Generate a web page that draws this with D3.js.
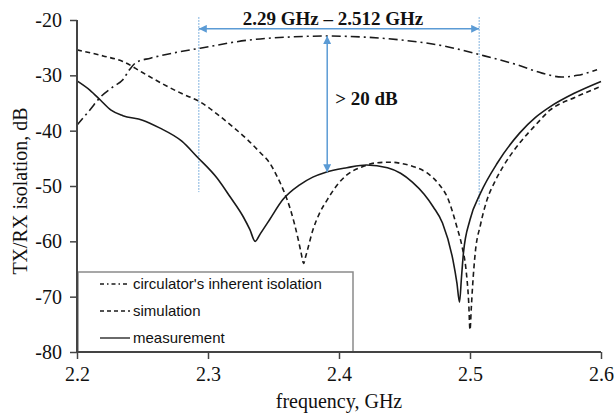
<!DOCTYPE html>
<html lang="en">
<head>
    <meta charset="UTF-8">
    <title>TX/RX isolation</title>
    <style>
        body { margin: 0; padding: 0; background: #fff; }
        svg { display: block; }
        .tick text { font-family: "Liberation Serif", "Times New Roman", serif; font-size: 20px; fill: #111; }
        .axis-title { font-family: "Liberation Serif", "Times New Roman", serif; font-size: 20px; fill: #111; }
        .note { font-family: "Liberation Serif", "Times New Roman", serif; font-size: 19px; font-weight: bold; fill: #111; }
        .legend text { font-family: "Liberation Sans", Arial, sans-serif; font-size: 15px; fill: #111; }
    </style>
</head>
<body>
<div id="chart"></div>
<script src="https://d3js.org/d3.v7.min.js"></script>
<script>
    // values
    const measFreq = [2.200, 2.210, 2.218, 2.226, 2.235, 2.250, 2.263, 2.280, 2.292, 2.307, 2.317, 2.327, 2.332,
        2.336, 2.340, 2.347, 2.357, 2.370, 2.380, 2.390, 2.406, 2.421, 2.437, 2.447, 2.456, 2.465, 2.472, 2.479,
        2.487, 2.490, 2.492, 2.4935, 2.495, 2.500, 2.508, 2.521, 2.538, 2.550, 2.561, 2.580, 2.600];
    const measurement = [-31.0, -32.7, -34.5, -36.3, -37.3, -38.1, -39.5, -41.9, -44.8, -48.6, -52.0, -55.6, -57.9,
        -60.0, -58.6, -56.1, -52.5, -49.8, -48.4, -47.5, -46.7, -46.2, -46.7, -47.7, -49.3, -51.5, -53.8, -56.7,
        -63.4, -67.5, -71.0, -66.5, -62.1, -56.1, -51.3, -45.8, -40.4, -37.6, -35.7, -33.2, -31.1];

    const simFreq = [2.200, 2.220, 2.235, 2.250, 2.265, 2.280, 2.294, 2.307, 2.319, 2.330, 2.340, 2.347, 2.353,
        2.358, 2.363, 2.369, 2.371, 2.373, 2.3745, 2.376, 2.380, 2.385, 2.391, 2.398, 2.406, 2.417, 2.429, 2.440,
        2.447, 2.457, 2.467, 2.476, 2.483, 2.490, 2.494, 2.497, 2.499, 2.500, 2.501, 2.502, 2.504, 2.508, 2.513,
        2.519, 2.525, 2.538, 2.550, 2.561, 2.580, 2.600];
    const simulation = [-25.4, -26.5, -27.5, -29.5, -31.5, -33.3, -34.8, -37.0, -39.3, -41.6, -44.0, -45.8, -48.4,
        -51.0, -54.3, -59.8, -62.0, -64.0, -62.8, -61.5, -58.0, -55.0, -52.5, -50.0, -48.0, -46.6, -45.8, -45.7,
        -45.9, -46.5, -47.6, -49.6, -52.2, -57.4, -61.0, -65.2, -71.0, -76.0, -72.0, -68.0, -62.1, -57.0, -52.5,
        -49.2, -46.6, -42.2, -39.0, -36.3, -34.0, -32.0];

    const circFreq = [2.200, 2.210, 2.218, 2.228, 2.235, 2.240, 2.245, 2.256, 2.275, 2.294, 2.332, 2.360, 2.391,
        2.420, 2.447, 2.480, 2.508, 2.536, 2.555, 2.570, 2.582, 2.597];
    const circulator = [-39.0, -36.2, -33.9, -32.0, -30.8, -29.0, -27.7, -26.9, -25.9, -25.1, -23.6, -23.1, -22.9,
        -23.1, -23.6, -24.7, -26.3, -28.1, -29.6, -30.3, -30.0, -29.0];

    const xTicks = [2.2, 2.3, 2.4, 2.5, 2.6];
    const yTicks = [-80, -70, -60, -50, -40, -30, -20];
    const legendLabels = ["circulator's inherent isolation", "simulation", "measurement"];

    // annotation: band edges and the >20 dB arrow
    const bandEdges = [2.293, 2.507];
    const bandLow = [-51.1, -53.4];
    const bandArrowLevel = -21.6;
    const isoFreq = 2.391;

    const width = 614, height = 415;
    const margin = { top: 20, right: 13, bottom: 63, left: 77 };

    const svg = d3.select('#chart').append('svg')
        .attr('width', width)
        .attr('height', height);

    const x = d3.scaleLinear().domain([2.2, 2.6]).range([margin.left, width - margin.right]);
    const y = d3.scaleLinear().domain([-80, -20]).range([height - margin.bottom, margin.top]);

    const blue = '#5b9bd5';
    svg.append('defs').append('marker')
        .attr('id', 'head')
        .attr('viewBox', '0 0 10 10')
        .attr('refX', 10).attr('refY', 5)
        .attr('markerWidth', 9).attr('markerHeight', 8)
        .attr('markerUnits', 'userSpaceOnUse')
        .attr('orient', 'auto-start-reverse')
        .append('path')
        .attr('d', 'M0,0 L10,5 L0,10 Z')
        .attr('fill', blue);

    // dotted band edges
    svg.append('g').selectAll('line')
        .data(bandEdges)
        .join('line')
        .attr('x1', d => x(d)).attr('x2', d => x(d))
        .attr('y1', y(-19.5))
        .attr('y2', (d, i) => y(bandLow[i]))
        .attr('stroke', blue)
        .attr('stroke-width', 1)
        .attr('stroke-dasharray', '1.5,1.5');

    // curves
    const series = [
        { f: circFreq, v: circulator, dash: '9,4,2,4' },
        { f: simFreq, v: simulation, dash: '5,3.5' },
        { f: measFreq, v: measurement, dash: null }
    ];

    series.forEach(s => {
        const pts = s.f.map((f, i) => [f, s.v[i]]);
        svg.append('path')
            .datum(pts)
            .attr('fill', 'none')
            .attr('stroke', '#1a1a1a')
            .attr('stroke-width', 1.6)
            .attr('stroke-dasharray', s.dash)
            .attr('stroke-linejoin', 'round')
            .attr('d', d3.line().x(d => x(d[0])).y(d => y(d[1])).curve(d3.curveMonotoneX));
    });

    // arrows
    svg.append('line')
        .attr('x1', x(bandEdges[0])).attr('x2', x(bandEdges[1]))
        .attr('y1', y(bandArrowLevel)).attr('y2', y(bandArrowLevel))
        .attr('stroke', blue).attr('stroke-width', 1.5)
        .attr('marker-start', 'url(#head)')
        .attr('marker-end', 'url(#head)');

    svg.append('line')
        .attr('x1', x(isoFreq)).attr('x2', x(isoFreq))
        .attr('y1', y(-22.9)).attr('y2', y(-47.5))
        .attr('stroke', blue).attr('stroke-width', 1.5)
        .attr('marker-start', 'url(#head)')
        .attr('marker-end', 'url(#head)');

    svg.append('text')
        .attr('class', 'note')
        .attr('x', (x(bandEdges[0]) + x(bandEdges[1])) / 2 - 6)
        .attr('y', 25)
        .attr('text-anchor', 'middle')
        .text('2.29 GHz – 2.512 GHz');

    svg.append('text')
        .attr('class', 'note')
        .attr('x', x(isoFreq) + 8)
        .attr('y', 105)
        .text('> 20 dB');

    // legend
    const legend = svg.append('g').attr('class', 'legend');
    legend.append('rect')
        .attr('x', 78).attr('y', 272)
        .attr('width', 275).attr('height', 80)
        .attr('fill', '#fff')
        .attr('stroke', '#8a8a8a')
        .attr('stroke-width', 1.5);

    legendLabels.forEach((label, i) => {
        const ly = 284 + i * 27;
        legend.append('line')
            .attr('x1', 100).attr('x2', 130)
            .attr('y1', ly).attr('y2', ly)
            .attr('stroke', '#1a1a1a')
            .attr('stroke-width', 1.3)
            .attr('stroke-dasharray', series[i].dash ? (i === 0 ? '4,3,1.5,3' : '4,3') : null);
        legend.append('text')
            .attr('x', 133).attr('y', ly)
            .attr('dy', '0.35em')
            .text(label);
    });

    // axes
    const xAxis = svg.append('g')
        .attr('transform', `translate(0,${height - margin.bottom})`)
        .call(d3.axisBottom(x).tickValues(xTicks).tickFormat(d => d.toFixed(1)).tickSize(7).tickPadding(8));

    const yAxis = svg.append('g')
        .attr('transform', `translate(${margin.left},0)`)
        .call(d3.axisLeft(y).tickValues(yTicks).tickFormat(d => String(d)).tickSize(7).tickPadding(8));

    [xAxis, yAxis].forEach(a => {
        a.select('.domain').attr('stroke', '#444').attr('stroke-width', 2);
        a.selectAll('.tick line').attr('stroke', '#444').attr('stroke-width', 1.5);
    });
    xAxis.select('.domain').attr('d', `M${margin.left},0H${width - margin.right}`);
    yAxis.select('.domain').attr('d', `M0,${margin.top}V${height - margin.bottom}`);

    svg.append('text')
        .attr('class', 'axis-title')
        .attr('x', x(2.4))
        .attr('y', 408)
        .attr('text-anchor', 'middle')
        .text('frequency, GHz');

    svg.append('text')
        .attr('class', 'axis-title')
        .attr('transform', `translate(27,${y(-50) + 5}) rotate(-90)`)
        .attr('text-anchor', 'middle')
        .text('TX/RX isolation, dB');
</script>
</body>
</html>
